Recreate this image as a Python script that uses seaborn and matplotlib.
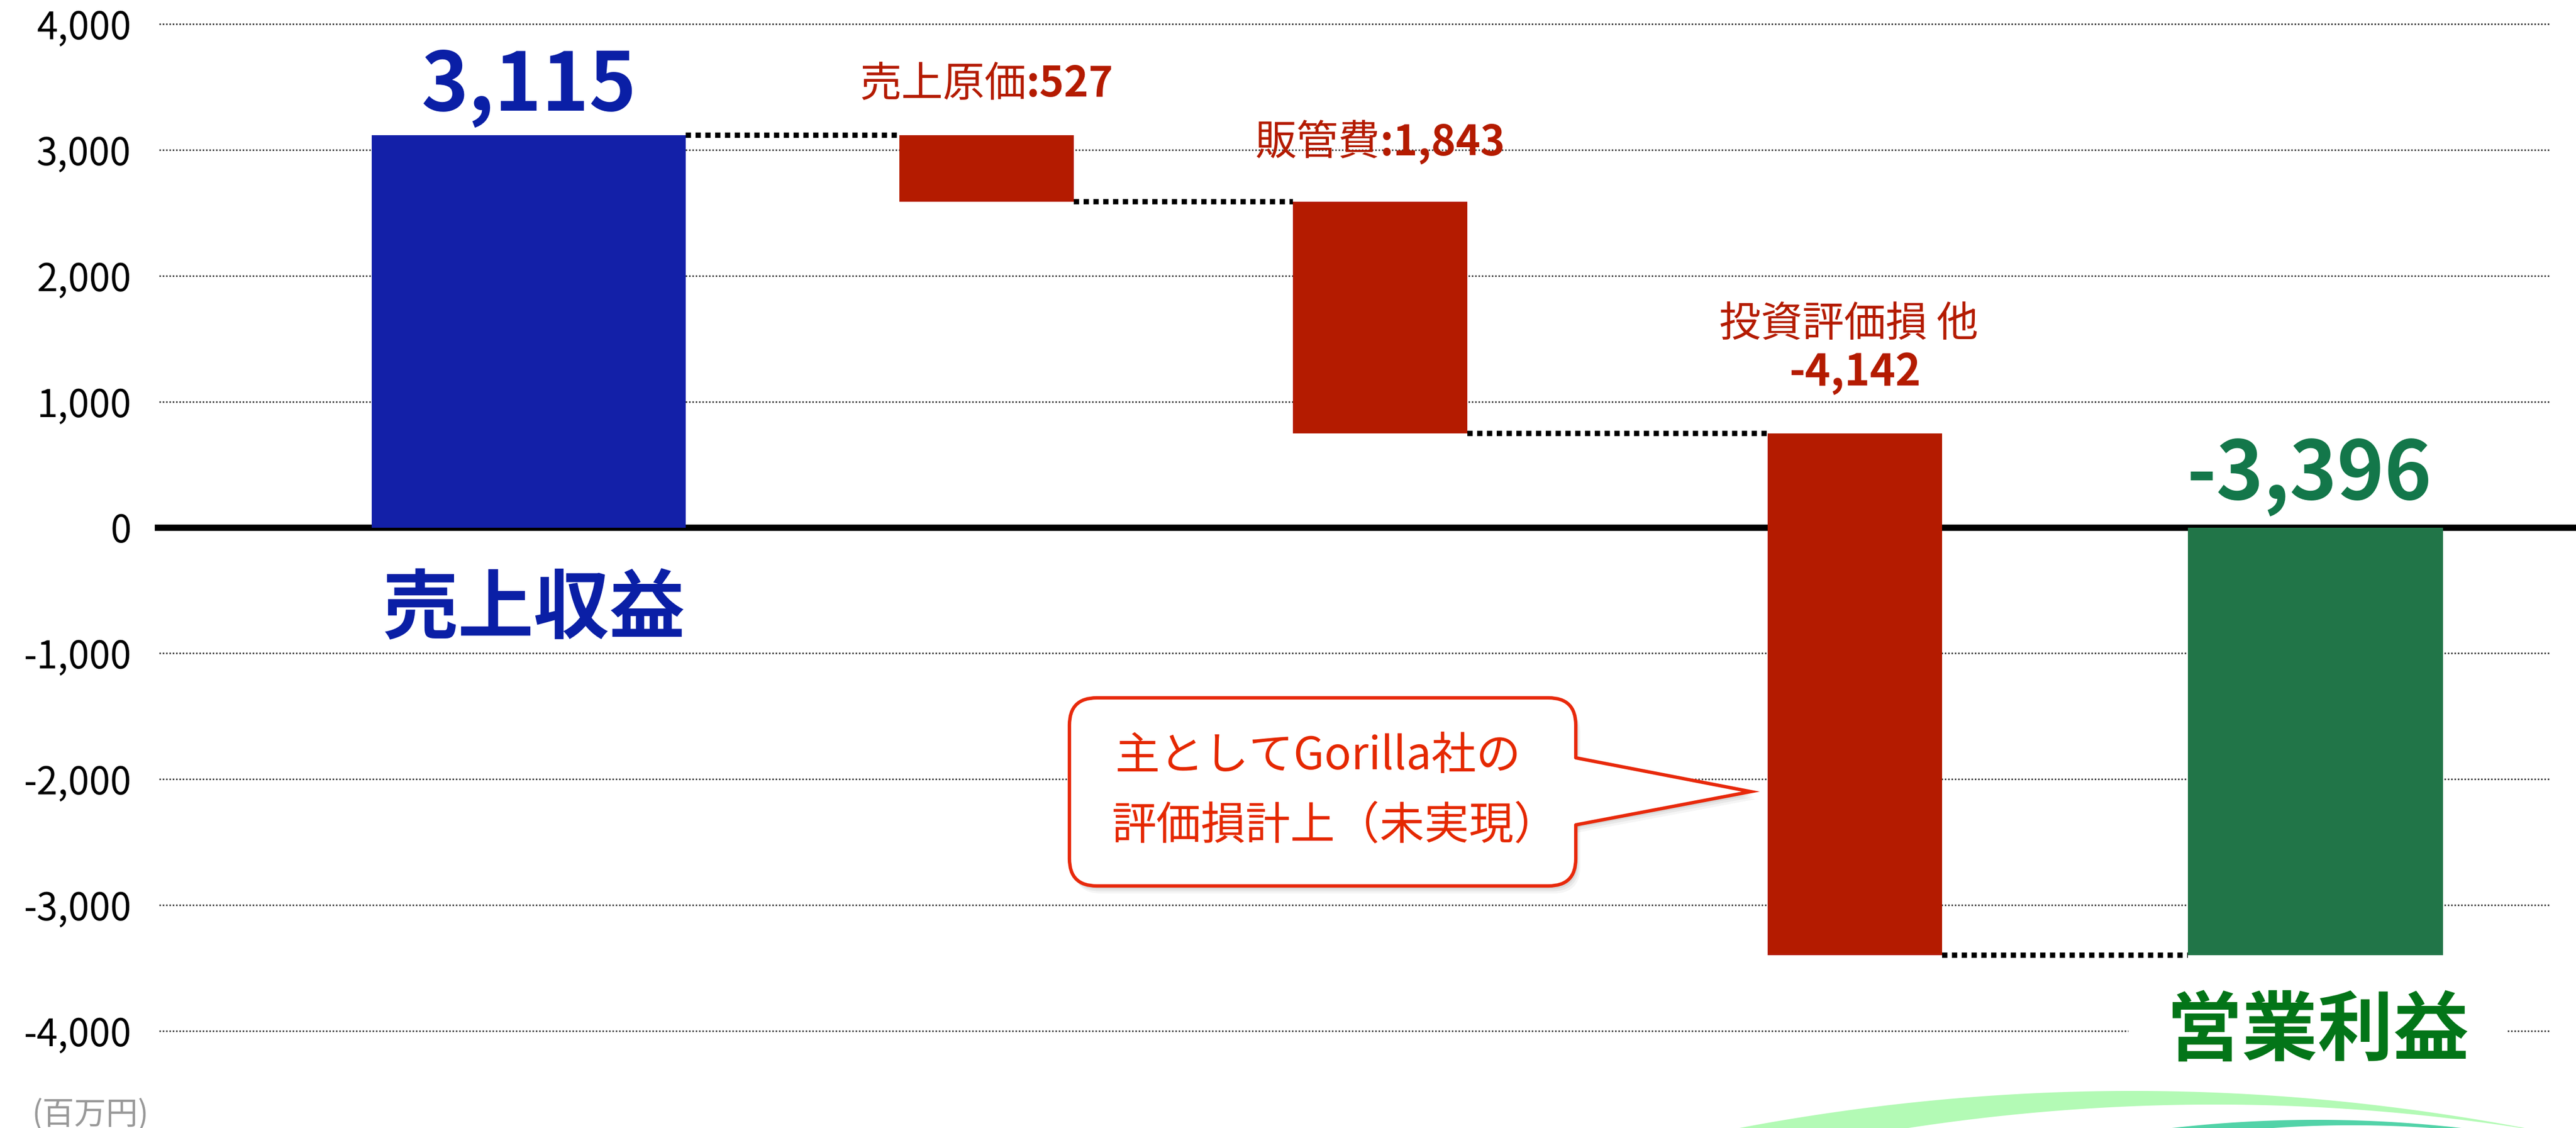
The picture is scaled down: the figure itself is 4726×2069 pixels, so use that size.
import numpy as np
import pandas as pd
import seaborn as sns
import matplotlib.pyplot as plt
from matplotlib.patches import FancyBboxPatch, Polygon
from matplotlib.ticker import FuncFormatter

# ---- data (百万円) ----
steps = ['売上収益', '売上原価', '販管費', '投資評価損 他', '営業利益']
amounts = [3115, -527, -1843, -4142, -3396]
kinds = ['total', 'delta', 'delta', 'delta', 'total']
value_labels = ['3,115', '527', '1,843', '-4,142', '-3,396']
yticks = [-4000, -3000, -2000, -1000, 0, 1000, 2000, 3000, 4000]
callout_lines = ['主としてGorilla社の', '評価損計上（未実現）']
unit_label = '(百万円)'

# ---- layout (pixels of the 4726x2069 canvas) ----
W, H = 4726, 2069
zero_px, px_per_1000 = 967.5, 230.9
bar_x = [970, 1810, 2532, 3403, 4248]
bar_w = [576, 320, 320, 320, 468]
bar_colors = ['#1320A8', '#B41B00', '#B41B00', '#B41B00', '#217548']
blue_txt, red_txt, green_txt, green_name = '#0A1FA6', '#B41B00', '#13774A', '#037518'


def val(px):
    # canvas y pixel -> data value
    return (zero_px - px) / px_per_1000 * 1000


# waterfall bottoms/heights
df = pd.DataFrame({'step': steps, 'amount': amounts, 'kind': kinds})
bottoms, running = [], 0
for a, k in zip(amounts, kinds):
    if k == 'total':
        bottoms.append(0)
        running = a
    else:
        bottoms.append(running)
        running += a
df['bottom'] = bottoms
df['top'] = df['bottom'] + df['amount']

sns.set_theme(style='white')
plt.rcParams['font.family'] = ['Noto Sans CJK JP', 'DejaVu Sans']

fig = plt.figure(figsize=(W / 100, H / 100), dpi=100)
ax = fig.add_axes([284 / W, 0, 1 - 284 / W, 1])
ax.set_xlim(284, W)
ax.set_ylim(val(H), val(0))
for s in ax.spines.values():
    s.set_visible(False)

# gridlines (dotted) and thick zero line
for t in yticks:
    if t != 0:
        ax.plot([292, 4679], [t, t], color='#333333', lw=2.0,
                dashes=(1, 1.2), zorder=1)
ax.axhline(0, color='black', lw=8.3, zorder=2)

# bars
ax.bar(bar_x, df['amount'], width=bar_w, bottom=df['bottom'],
       color=bar_colors, zorder=3, linewidth=0)

# dotted connectors
for i in range(len(df) - 1):
    level = df['top'][i] if i < len(df) - 2 else df['top'][i]
    x0 = bar_x[i] + bar_w[i] / 2
    x1 = bar_x[i + 1] - bar_w[i + 1] / 2
    ax.plot([x0, x1], [level, level], color='black', lw=7.0,
            dashes=(1, 0.85), solid_capstyle='butt', dash_capstyle='butt',
            zorder=4)

# y axis ticks
ax.set_yticks(yticks)
ax.yaxis.set_major_formatter(FuncFormatter(lambda v, _: f'{int(v):,}'))
ax.tick_params(axis='y', length=0, pad=31, labelsize=50, colors='black')
ax.set_xticks([])

# big total labels
ax.text(bar_x[0], val(203), value_labels[0], ha='center', va='baseline',
        fontsize=106, fontweight='bold', color=blue_txt, zorder=5)
ax.text(bar_x[0] + 10, val(1160), steps[0], ha='center', va='baseline',
        fontsize=100, fontweight='bold', color=blue_txt, zorder=5)
ax.text(bar_x[4] - 11, val(916), value_labels[4], ha='center', va='baseline',
        fontsize=106, fontweight='bold', color=green_txt, zorder=5)
ax.text(bar_x[4] + 4, val(1934), steps[4], ha='center', va='baseline',
        fontsize=100, fontweight='bold', color=green_name, zorder=2.5,
        bbox=dict(boxstyle='square,pad=0.5', fc='white', ec='none'))

# delta labels: regular name + bold value, centred over bar
renderer = fig.canvas.get_renderer()
for i, base_px in [(1, 177), (2, 284)]:
    t1 = ax.text(0, val(base_px), steps[i], ha='left', va='baseline',
                 fontsize=55, color=red_txt, zorder=5)
    t2 = ax.text(0, val(base_px), ':' + value_labels[i], ha='left',
                 va='baseline', fontsize=55, fontweight='bold',
                 color=red_txt, zorder=5)
    w1 = t1.get_window_extent(renderer).width
    w2 = t2.get_window_extent(renderer).width
    x0 = bar_x[i] - (w1 + w2) / 2
    t1.set_x(x0)
    t2.set_x(x0 + w1)

ax.text(bar_x[3] - 11, val(617), steps[3], ha='center', va='baseline',
        fontsize=55, color=red_txt, zorder=5)
ax.text(bar_x[3], val(708), value_labels[3], ha='center', va='baseline',
        fontsize=57, fontweight='bold', color=red_txt, zorder=5)

# ---- overlay in canvas pixels: callout, unit, decoration ----
ov = fig.add_axes([0, 0, 1, 1], zorder=5)
ov.set_xlim(0, W)
ov.set_ylim(H, 0)
ov.axis('off')
ov.patch.set_alpha(0)

bx0, by0, bx1, by1 = 1962, 1280, 2891, 1625
tip = (3212, 1452)
base_a, base_b = 1390, 1513
callout_red = '#E8290B'

# soft shadow
for k, alpha in [(14, 0.06), (10, 0.08), (6, 0.10)]:
    ov.add_patch(FancyBboxPatch((bx0 + k * 0.6, by0 + k), bx1 - bx0, by1 - by0,
                                boxstyle='round,pad=0,rounding_size=50',
                                fc='#555555', ec='none', alpha=alpha, zorder=1))
    ov.add_patch(Polygon([(bx1 - 5 + k * 0.6, base_a + k), (tip[0] + k * 0.6, tip[1] + k),
                          (bx1 - 5 + k * 0.6, base_b + k)],
                         closed=True, fc='#555555', ec='none', alpha=alpha, zorder=1))
ov.add_patch(FancyBboxPatch((bx0, by0), bx1 - bx0, by1 - by0,
                            boxstyle='round,pad=0,rounding_size=50',
                            fc='white', ec=callout_red, lw=4.5, zorder=2))
ov.add_patch(Polygon([(bx1 - 8, base_a), tip, (bx1 - 8, base_b)], closed=True,
                     fc='white', ec='none', zorder=3))
ov.plot([bx1, tip[0], bx1], [base_a, tip[1], base_b], color=callout_red,
        lw=4.5, solid_joinstyle='miter', zorder=4)
ov.text(2045, 1388, callout_lines[0], ha='left', va='center', fontsize=59,
        color='#E52800', zorder=5)
ov.text(2040, 1516, callout_lines[1], ha='left', va='center', fontsize=59,
        color='#E52800', zorder=5)

# unit label
ov.text(59, 2046, unit_label, ha='left', va='center', fontsize=42,
        color='#999999')


# bottom-right swooshes
def arc(p0, p1, p2, n=80):
    xs = [p0[0], p1[0], p2[0]]
    ys = [p0[1], p1[1], p2[1]]
    c = np.polyfit(xs, ys, 2)
    x = np.linspace(p0[0], p2[0], n)
    return np.column_stack([x, np.polyval(c, x)])


outer = arc((3160, 2075), (3903, 2001), (4663, 2075))
inner = arc((3463, 2075), (4057, 2026), (4663, 2075))
ov.add_patch(Polygon(np.vstack([outer, inner[::-1]]), closed=True,
                     fc='#B3FAB5', ec='none', zorder=1))
outer2 = arc((3936, 2075), (4244, 2054), (4564, 2075))
inner2 = arc((4101, 2075), (4322, 2064), (4530, 2075))
ov.add_patch(Polygon(np.vstack([outer2, inner2[::-1]]), closed=True,
                     fc='#52D3A8', ec='none', zorder=1))

fig.savefig('out.png', dpi=100, facecolor='white')
